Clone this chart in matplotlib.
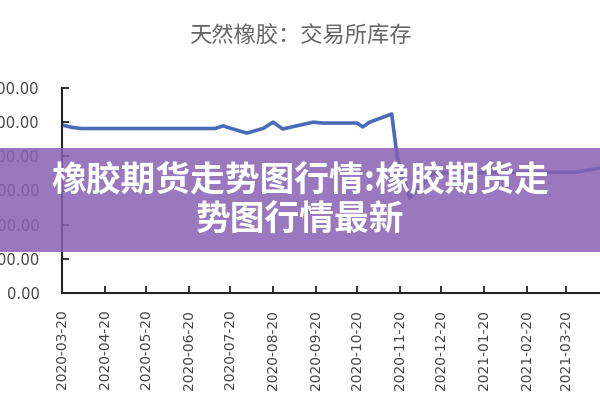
import matplotlib
matplotlib.use("Agg")
import matplotlib.pyplot as plt
import pandas as pd

title = "天然橡胶：交易所库存"
banner_line1 = "橡胶期货走势图行情:橡胶期货走"
banner_line2 = "势图行情最新"

dates = ["2020-03-20", "2020-03-27", "2020-04-03", "2020-05-15", "2020-07-09",
         "2020-07-15", "2020-07-17", "2020-08-01", "2020-08-13", "2020-08-20",
         "2020-08-27", "2020-09-18", "2020-09-25", "2020-10-20", "2020-10-24",
         "2020-10-29", "2020-11-14", "2020-11-18", "2020-11-27", "2020-12-14",
         "2021-03-28", "2021-04-14"]
values = [245800, 242500, 240700, 240700, 240700,
          244800, 243000, 234000, 241000, 250000,
          240000, 250000, 248700, 248700, 243000,
          250000, 262000, 199000, 139000, 175600,
          177000, 183000]

tick_dates = ["2020-03-20", "2020-04-20", "2020-05-20", "2020-06-20", "2020-07-20",
              "2020-08-20", "2020-09-20", "2020-10-20", "2020-11-20", "2020-12-20",
              "2021-01-20", "2021-02-20", "2021-03-20"]
y_ticks = [0, 50000, 100000, 150000, 200000, 250000, 300000]

x = pd.to_datetime(dates)

fig = plt.figure(figsize=(6, 4), dpi=100)
ax = fig.add_axes([62/600, 107/400, 1 - 62/600, 205/400])

ax.plot(x, values, color="#4a6cb8", linewidth=2.6, solid_joinstyle="round")

ax.set_ylim(0, 300000)
ax.set_xlim(pd.Timestamp("2020-03-20"), pd.Timestamp("2021-04-14"))
ax.set_yticks(y_ticks)
ax.set_yticklabels([f"{v:.2f}" for v in y_ticks], fontsize=10.5, color="#444444")
ax.set_xticks(pd.to_datetime(tick_dates))
ax.set_xticklabels(tick_dates, rotation=90, fontsize=10, color="#444444")
ax.tick_params(axis="both", direction="in", length=5, width=1.3, color="#222222")
ax.tick_params(axis="y", pad=16)
ax.tick_params(axis="x", pad=12)
for s in ["top", "right"]:
    ax.spines[s].set_visible(False)
for s in ["left", "bottom"]:
    ax.spines[s].set_linewidth(1.5)
    ax.spines[s].set_color("#222222")

fig.text(0.5, 1 - 36/400, title, ha="center", va="center", fontsize=16,
         color="#666666", family=["Noto Sans CJK SC", "DejaVu Sans"])

# purple banner overlay
fig.patches.append(plt.Rectangle((0, 1 - 252/400), 1, 104/400, transform=fig.transFigure,
                                 facecolor=(0.53, 0.38, 0.70), alpha=0.85, zorder=5))
fig.text(0.5, 1 - 180/400, banner_line1, ha="center", va="center", fontsize=25,
         fontweight=900, color="white", family=["Noto Sans CJK SC", "DejaVu Sans"], zorder=6)
fig.text(0.5, 1 - 220/400, banner_line2, ha="center", va="center", fontsize=25,
         fontweight=900, color="white", family=["Noto Sans CJK SC", "DejaVu Sans"], zorder=6)

fig.savefig("out.png", dpi=100)
